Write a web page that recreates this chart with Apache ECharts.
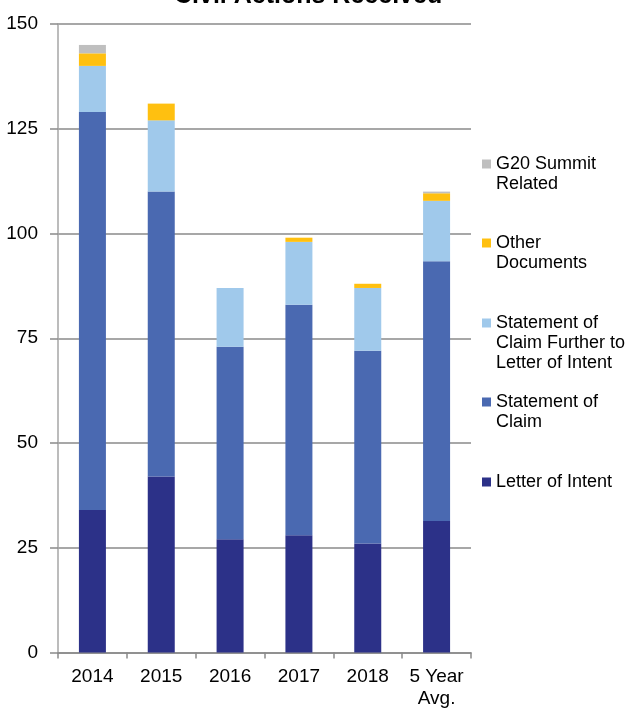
<!DOCTYPE html>
<html>
<head>
<meta charset="utf-8">
<script src="https://cdn.jsdelivr.net/npm/echarts@6/dist/echarts.min.js"></script>
<style>
  html, body { margin: 0; padding: 0; background: #fff; }
  #chart { width: 629px; height: 711px; }
</style>
</head>
<body>
<div id="chart"></div>
<script>
// categories and stacked values (bottom to top)
let years = ['2014', '2015', '2016', '2017', '2018', '5 Year\nAvg.'];
let letterOfIntent = [34, 42, 27, 28, 26, 31.4];
let statementOfClaim = [95, 68, 46, 55, 46, 62];
let claimFurtherToLoi = [11, 17, 14, 15, 15, 14.4];
let otherDocuments = [3, 4, 0, 1, 1, 1.8];
let g20Related = [2, 0, 0, 0, 0, 0.4];
let yTicks = [0, 25, 50, 75, 100, 125, 150];

let font = "'Liberation Sans', Arial, sans-serif";

let legendLabels = {
    'G20 Summit Related': ['G20 Summit', 'Related'],
    'Other Documents': ['Other', 'Documents'],
    'Statement of Claim Further to Letter of Intent': ['Statement of', 'Claim Further to', 'Letter of Intent'],
    'Statement of Claim': ['Statement of', 'Claim'],
    'Letter of Intent': ['Letter of Intent']
};

let myChart = echarts.init(document.getElementById('chart'));

// one legend per item so each can sit at its own height.
// blank lines are put in front so the first line lines up with the icon
function legendItem(name, top) {
    return {
        data: [name],
        left: 482,
        top: top,
        padding: 0,
        itemWidth: 9,
        itemHeight: 9,
        itemGap: 0,
        icon: 'rect',
        selectedMode: false,
        formatter: function (n) {
            let lines = legendLabels[n];
            let pad = [];
            for (let i = 1; i < lines.length; i++) {
                pad.push(' ');
            }
            return pad.concat(lines).join('\n');
        },
        textStyle: {
            fontFamily: font,
            fontSize: 18,
            color: '#000',
            lineHeight: 20
        }
    };
}

function barSeries(name, data, color) {
    return {
        name: name,
        type: 'bar',
        stack: 'total',
        barWidth: 27,
        data: data,
        itemStyle: { color: color },
        emphasis: { disabled: true }
    };
}

let option = {
    animation: false,
    title: {
        text: 'Civil Actions Received',
        left: 169,
        top: -21,
        textStyle: {
            fontFamily: font,
            fontSize: 25,
            fontWeight: 'bold',
            color: '#000'
        }
    },
    legend: [
        legendItem('G20 Summit Related', 134),
        legendItem('Other Documents', 213),
        legendItem('Statement of Claim Further to Letter of Intent', 273),
        legendItem('Statement of Claim', 372),
        legendItem('Letter of Intent', 472)
    ],
    grid: {
        left: 58,
        right: 158,
        top: 24,
        bottom: 58.5,
        containLabel: false
    },
    xAxis: {
        type: 'category',
        data: years,
        axisLine: { lineStyle: { color: '#8a8a8a', width: 1.5 } },
        axisTick: { show: true, length: 6, lineStyle: { color: '#8a8a8a', width: 1.5 } },
        axisLabel: {
            interval: 0,
            margin: 13,
            fontFamily: font,
            fontSize: 19,
            lineHeight: 22,
            color: '#000'
        }
    },
    yAxis: {
        type: 'value',
        min: yTicks[0],
        max: yTicks[yTicks.length - 1],
        interval: 25,
        axisLine: { show: true, lineStyle: { color: '#a6a6a6', width: 1.5 } },
        axisTick: { show: true, length: 8, lineStyle: { color: '#8a8a8a', width: 1.5 } },
        splitLine: { lineStyle: { color: '#8a8a8a', width: 1.5 } },
        axisLabel: {
            margin: 20,
            fontFamily: font,
            fontSize: 19,
            color: '#000'
        }
    },
    series: [
        barSeries('Letter of Intent', letterOfIntent, '#2c3188'),
        barSeries('Statement of Claim', statementOfClaim, '#4a69b1'),
        barSeries('Statement of Claim Further to Letter of Intent', claimFurtherToLoi, '#a0c9eb'),
        barSeries('Other Documents', otherDocuments, '#ffc010'),
        barSeries('G20 Summit Related', g20Related, '#bfbfbf')
    ]
};

myChart.setOption(option);
</script>
</body>
</html>
